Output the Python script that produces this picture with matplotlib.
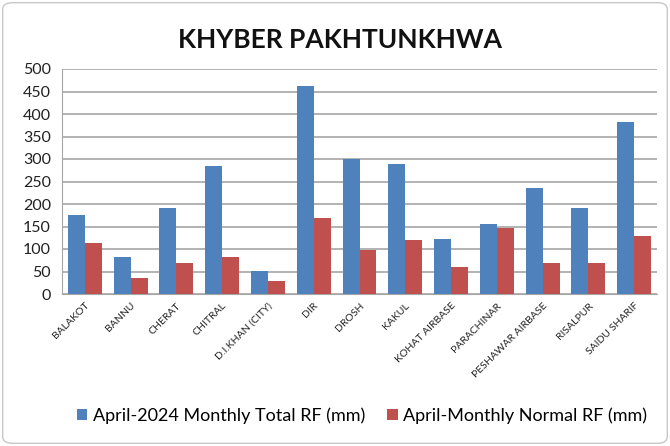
import numpy as np
import matplotlib.pyplot as plt
from matplotlib.patches import FancyBboxPatch

stations = ['BALAKOT', 'BANNU', 'CHERAT', 'CHITRAL', 'D.I.KHAN (CITY)', 'DIR', 'DROSH',
            'KAKUL', 'KOHAT AIRBASE', 'PARACHINAR', 'PESHAWAR AIRBASE', 'RISALPUR',
            'SAIDU SHARIF']
total_rf = [175, 82, 192, 284, 52, 462, 300, 289, 122, 155, 236, 192, 382]
normal_rf = [114, 35, 70, 82, 30, 169, 98, 120, 61, 146, 69, 69, 129]

plt.rcParams['font.family'] = ['Lato', 'DejaVu Sans']

fig = plt.figure(figsize=(6.7, 4.46), dpi=100)
ax = fig.add_axes([62 / 670, 1 - 294 / 446, 595 / 670, 225 / 446])

# figure border
fig.patches.append(FancyBboxPatch((0.004, 0.006), 0.992, 0.988,
                                  boxstyle='round,pad=0,rounding_size=0.015',
                                  transform=fig.transFigure, fill=False,
                                  edgecolor='#c8c8c8', linewidth=1))

x = np.arange(len(stations))
w = 0.37
ax.bar(x - w / 2, total_rf, w, color='#4F81BD', label='April-2024 Monthly Total RF (mm)', zorder=3)
ax.bar(x + w / 2, normal_rf, w, color='#C0504D', label='April-Monthly Normal RF (mm)', zorder=3)

ax.set_xlim(-0.5, len(stations) - 0.5)
ax.set_ylim(0, 500)
ax.set_yticks(range(0, 501, 50))
ax.yaxis.grid(True, color='#a6a6a6', linewidth=1.2, zorder=0)
ax.set_axisbelow(True)
for s in ['top', 'right']:
    ax.spines[s].set_visible(False)
ax.spines['left'].set_color('#a6a6a6')
ax.spines['bottom'].set_color('#a6a6a6')
ax.tick_params(axis='y', length=0, labelsize=11.5, colors='#222222', pad=8)
ax.tick_params(axis='x', length=0, pad=5)
ax.set_xticks(x)
ax.set_xticklabels(stations, rotation=45, ha='right', rotation_mode='anchor',
                   fontsize=7.5, color='#222222')

fig.text(0.507, 0.91, 'KHYBER PAKHTUNKHWA', ha='center', va='center',
         fontsize=19, fontweight='bold', color='#111111')

fig.legend(loc='center', bbox_to_anchor=(0.54, 0.068), ncol=2, frameon=False,
           fontsize=13, handlelength=0.6, handleheight=0.6, handletextpad=0.3,
           columnspacing=1.2)

fig.savefig('out.png', dpi=100)
